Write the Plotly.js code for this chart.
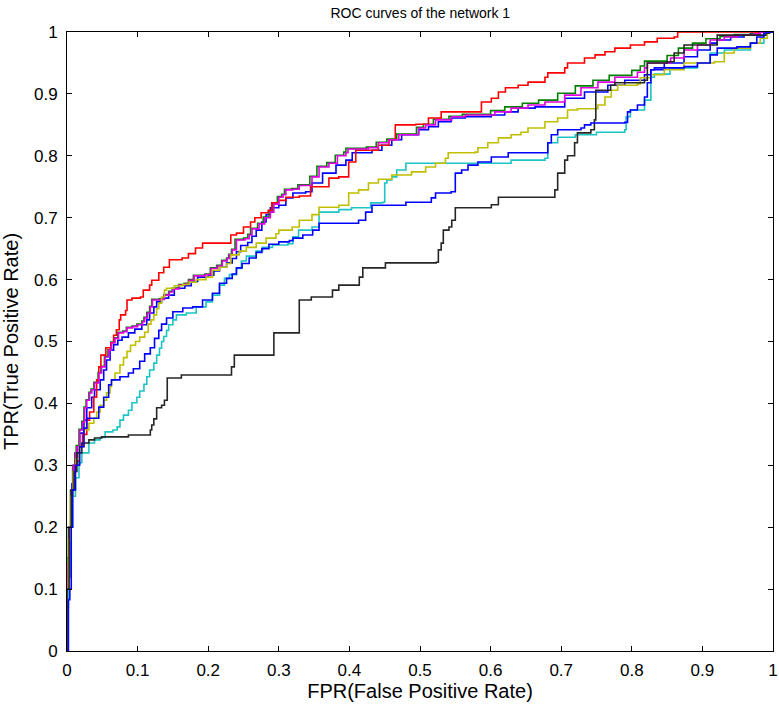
<!DOCTYPE html>
<html>
<head>
<meta charset="utf-8">
<script src="https://cdn.plot.ly/plotly-3.0.1.min.js"></script>
<style>html,body{margin:0;padding:0;background:#fff;}#chart{width:779px;height:707px;}</style>
</head>
<body>
<div id="chart"></div>
<script>
// ---- Data (FPR, TPR pairs for each curve) ----
var blue1X = [0,0.001,0.004,0.007,0.011,0.015,0.018,0.024,0.028,0.035,0.039,0.047,0.052,0.056,0.061,0.066,0.072,0.078,0.087,0.096,0.106,0.113,0.117,0.123,0.127,0.134,0.144,0.152,0.167,0.176,0.185,0.2,0.208,0.216,0.226,0.234,0.24,0.246,0.256,0.262,0.268,0.276,0.282,0.288,0.3,0.31,0.32,0.338,0.347,0.362,0.381,0.395,0.404,0.432,0.446,0.46,0.474,0.498,0.512,0.526,0.544,0.564,0.601,0.62,0.639,0.663,0.705,0.733,0.766,0.79,0.818,0.827,0.846,0.874,0.893,0.911,0.921,0.94,0.959,0.968,0.98,1];
var blue1Y = [0,0.12,0.2,0.27,0.3,0.33,0.352,0.373,0.393,0.41,0.422,0.438,0.454,0.47,0.486,0.495,0.502,0.507,0.514,0.52,0.527,0.535,0.546,0.556,0.564,0.57,0.575,0.586,0.59,0.597,0.604,0.607,0.614,0.62,0.627,0.634,0.645,0.655,0.66,0.67,0.68,0.693,0.705,0.716,0.72,0.732,0.74,0.742,0.756,0.772,0.785,0.793,0.805,0.809,0.817,0.826,0.834,0.842,0.847,0.855,0.861,0.863,0.866,0.871,0.877,0.879,0.893,0.903,0.914,0.922,0.931,0.939,0.95,0.96,0.971,0.982,0.987,0.992,0.995,0.997,1,1];

var greenX = [0,0,0.002,0.005,0.008,0.011,0.013,0.017,0.021,0.024,0.027,0.031,0.034,0.038,0.044,0.048,0.053,0.058,0.062,0.067,0.072,0.079,0.084,0.092,0.099,0.106,0.109,0.113,0.117,0.12,0.131,0.137,0.144,0.149,0.158,0.166,0.172,0.179,0.195,0.203,0.212,0.219,0.226,0.229,0.233,0.238,0.25,0.256,0.26,0.27,0.278,0.286,0.291,0.298,0.304,0.308,0.318,0.327,0.344,0.354,0.368,0.38,0.392,0.395,0.424,0.438,0.453,0.467,0.495,0.505,0.519,0.541,0.56,0.6,0.62,0.645,0.668,0.695,0.72,0.745,0.768,0.8,0.812,0.818,0.85,0.866,0.886,0.905,0.925,0.945,0.97,0.98,1];
var greenY = [0,0.15,0.2,0.26,0.3,0.32,0.332,0.358,0.371,0.394,0.406,0.418,0.423,0.434,0.45,0.46,0.476,0.487,0.499,0.506,0.515,0.517,0.523,0.525,0.528,0.533,0.539,0.547,0.557,0.568,0.569,0.576,0.581,0.586,0.592,0.594,0.6,0.607,0.609,0.619,0.623,0.631,0.635,0.641,0.649,0.665,0.667,0.673,0.683,0.691,0.701,0.71,0.723,0.734,0.738,0.746,0.747,0.753,0.767,0.783,0.789,0.801,0.806,0.812,0.814,0.822,0.827,0.835,0.846,0.851,0.859,0.864,0.867,0.873,0.879,0.885,0.89,0.901,0.913,0.922,0.93,0.938,0.945,0.953,0.962,0.974,0.982,0.989,0.993,0.996,0.998,1,1];

var redX = [0,0.001,0.004,0.007,0.011,0.016,0.022,0.028,0.032,0.038,0.042,0.045,0.048,0.055,0.062,0.066,0.07,0.074,0.076,0.083,0.085,0.092,0.104,0.108,0.117,0.12,0.13,0.137,0.145,0.163,0.172,0.182,0.192,0.228,0.232,0.24,0.25,0.26,0.266,0.275,0.285,0.29,0.3,0.31,0.329,0.345,0.371,0.385,0.399,0.409,0.427,0.441,0.456,0.465,0.494,0.512,0.53,0.578,0.587,0.601,0.611,0.621,0.639,0.653,0.677,0.681,0.705,0.709,0.733,0.748,0.762,0.776,0.798,0.818,0.836,0.86,0.865,1];
var redY = [0,0.12,0.2,0.26,0.3,0.33,0.35,0.373,0.386,0.41,0.438,0.459,0.478,0.49,0.498,0.51,0.519,0.535,0.543,0.55,0.567,0.57,0.572,0.583,0.591,0.599,0.611,0.62,0.632,0.635,0.642,0.651,0.659,0.659,0.672,0.675,0.685,0.693,0.7,0.708,0.712,0.724,0.728,0.733,0.735,0.75,0.764,0.766,0.79,0.809,0.809,0.817,0.826,0.85,0.851,0.861,0.871,0.871,0.887,0.893,0.903,0.91,0.914,0.919,0.927,0.934,0.942,0.95,0.958,0.963,0.968,0.974,0.979,0.984,0.99,0.992,1,1];

var cyanX = [0,0,0.002,0.004,0.008,0.012,0.017,0.021,0.031,0.039,0.047,0.054,0.065,0.071,0.075,0.08,0.087,0.092,0.099,0.103,0.109,0.113,0.117,0.123,0.127,0.131,0.134,0.137,0.141,0.144,0.15,0.155,0.169,0.183,0.197,0.206,0.216,0.223,0.23,0.24,0.247,0.254,0.268,0.277,0.291,0.313,0.32,0.328,0.347,0.357,0.385,0.403,0.43,0.447,0.45,0.453,0.46,0.467,0.48,0.611,0.629,0.677,0.681,0.695,0.72,0.75,0.79,0.792,0.798,0.818,0.827,0.832,0.854,0.893,0.911,0.931,0.968,0.987,0.99,1];
var cyanY = [0,0.07,0.12,0.2,0.25,0.28,0.304,0.32,0.336,0.341,0.345,0.354,0.357,0.362,0.373,0.381,0.389,0.401,0.41,0.42,0.431,0.443,0.454,0.465,0.478,0.489,0.5,0.508,0.518,0.527,0.535,0.543,0.546,0.556,0.564,0.575,0.591,0.602,0.608,0.618,0.63,0.638,0.646,0.652,0.656,0.658,0.669,0.68,0.685,0.709,0.713,0.716,0.724,0.725,0.756,0.761,0.766,0.777,0.788,0.788,0.793,0.796,0.821,0.83,0.834,0.838,0.842,0.863,0.874,0.89,0.927,0.932,0.942,0.95,0.966,0.971,0.982,0.998,1,1];

var magentaX = [0,0,0.003,0.006,0.009,0.012,0.014,0.018,0.022,0.025,0.028,0.032,0.035,0.039,0.045,0.049,0.054,0.059,0.063,0.068,0.073,0.08,0.085,0.093,0.1,0.107,0.11,0.114,0.118,0.121,0.132,0.138,0.145,0.15,0.159,0.167,0.173,0.18,0.196,0.204,0.213,0.22,0.227,0.23,0.234,0.24,0.252,0.258,0.262,0.272,0.28,0.288,0.293,0.3,0.306,0.31,0.32,0.329,0.347,0.357,0.371,0.383,0.395,0.398,0.427,0.441,0.456,0.47,0.498,0.508,0.522,0.545,0.564,0.606,0.629,0.653,0.677,0.705,0.728,0.752,0.776,0.808,0.818,0.822,0.855,0.874,0.893,0.911,0.931,0.949,0.973,0.982,1];
var magentaY = [0,0.14,0.2,0.26,0.3,0.32,0.33,0.357,0.37,0.393,0.405,0.417,0.422,0.433,0.449,0.459,0.475,0.486,0.498,0.505,0.514,0.516,0.522,0.524,0.527,0.532,0.538,0.546,0.556,0.567,0.568,0.575,0.58,0.585,0.591,0.593,0.599,0.606,0.608,0.618,0.622,0.63,0.634,0.64,0.648,0.664,0.666,0.672,0.682,0.69,0.7,0.709,0.722,0.733,0.737,0.745,0.746,0.752,0.766,0.782,0.788,0.8,0.805,0.811,0.813,0.821,0.826,0.834,0.845,0.85,0.858,0.863,0.866,0.871,0.877,0.882,0.887,0.898,0.91,0.919,0.927,0.935,0.942,0.95,0.958,0.971,0.979,0.987,0.992,0.995,0.997,1,1];

var yellowX = [0,0,0.002,0.005,0.009,0.013,0.017,0.024,0.031,0.038,0.042,0.047,0.052,0.056,0.061,0.063,0.068,0.075,0.08,0.085,0.09,0.097,0.103,0.11,0.115,0.119,0.123,0.127,0.13,0.134,0.138,0.141,0.152,0.164,0.173,0.183,0.197,0.206,0.216,0.226,0.232,0.244,0.254,0.268,0.282,0.296,0.3,0.319,0.329,0.347,0.357,0.385,0.399,0.413,0.427,0.441,0.46,0.488,0.508,0.522,0.536,0.54,0.578,0.582,0.596,0.611,0.629,0.643,0.653,0.677,0.695,0.709,0.723,0.752,0.762,0.771,0.78,0.808,0.812,0.827,0.846,0.874,0.917,0.931,0.945,0.968,0.982,0.992,0.995,1];
var yellowY = [0,0.1,0.18,0.25,0.29,0.31,0.33,0.357,0.368,0.376,0.386,0.397,0.405,0.417,0.427,0.438,0.449,0.462,0.474,0.484,0.494,0.5,0.507,0.515,0.528,0.535,0.543,0.553,0.562,0.572,0.583,0.586,0.59,0.592,0.596,0.6,0.604,0.615,0.62,0.626,0.64,0.646,0.652,0.659,0.667,0.674,0.68,0.685,0.696,0.705,0.717,0.72,0.74,0.745,0.756,0.762,0.769,0.774,0.782,0.788,0.796,0.805,0.806,0.813,0.821,0.829,0.834,0.838,0.845,0.855,0.861,0.874,0.876,0.882,0.895,0.906,0.914,0.916,0.926,0.931,0.939,0.95,0.952,0.966,0.974,0.982,0.99,0.998,1,1];

var blackX = [0,0,0.003,0.006,0.01,0.014,0.021,0.031,0.039,0.049,0.078,0.087,0.116,0.118,0.12,0.123,0.127,0.134,0.138,0.142,0.162,0.23,0.233,0.237,0.289,0.293,0.324,0.329,0.346,0.376,0.385,0.414,0.419,0.441,0.451,0.523,0.526,0.53,0.533,0.541,0.545,0.55,0.578,0.601,0.611,0.686,0.691,0.695,0.705,0.709,0.719,0.723,0.742,0.747,0.749,0.77,0.776,0.818,0.822,0.85,0.86,0.874,0.911,0.921,0.99,0.995,1];
var blackY = [0,0.1,0.2,0.26,0.29,0.32,0.336,0.341,0.344,0.346,0.346,0.349,0.349,0.357,0.365,0.375,0.393,0.397,0.405,0.441,0.446,0.446,0.459,0.478,0.478,0.514,0.514,0.567,0.572,0.583,0.591,0.604,0.619,0.619,0.627,0.628,0.648,0.659,0.68,0.685,0.696,0.716,0.716,0.721,0.733,0.733,0.745,0.772,0.793,0.8,0.821,0.837,0.842,0.858,0.906,0.914,0.918,0.922,0.95,0.952,0.966,0.979,0.979,0.995,0.998,1,1];

var blue2X = [0,0.002,0.002,0.004,0.006,0.008,0.012,0.018,0.024,0.028,0.039,0.045,0.052,0.059,0.063,0.075,0.087,0.094,0.103,0.11,0.118,0.124,0.13,0.134,0.141,0.15,0.164,0.178,0.192,0.206,0.216,0.226,0.234,0.24,0.248,0.258,0.268,0.276,0.286,0.3,0.315,0.32,0.334,0.348,0.357,0.413,0.423,0.432,0.48,0.516,0.522,0.544,0.55,0.559,0.568,0.582,0.601,0.625,0.681,0.681,0.686,0.695,0.728,0.733,0.742,0.79,0.794,0.798,0.808,0.818,0.822,0.827,0.832,0.874,0.893,0.911,0.921,0.949,0.968,0.977,0.987,0.99,1];
var blue2Y = [0,0,0.083,0.1,0.2,0.26,0.3,0.33,0.36,0.376,0.376,0.394,0.41,0.43,0.438,0.443,0.449,0.456,0.468,0.48,0.49,0.505,0.518,0.528,0.538,0.548,0.554,0.556,0.567,0.578,0.594,0.602,0.609,0.619,0.626,0.635,0.644,0.65,0.657,0.661,0.663,0.667,0.672,0.68,0.691,0.696,0.709,0.72,0.725,0.732,0.74,0.742,0.772,0.777,0.785,0.79,0.798,0.805,0.806,0.821,0.834,0.842,0.845,0.85,0.853,0.854,0.871,0.874,0.882,0.895,0.918,0.939,0.942,0.944,0.95,0.963,0.974,0.976,0.982,0.992,0.998,1,1];

var tickVals = [0,0.1,0.2,0.3,0.4,0.5,0.6,0.7,0.8,0.9,1];
var tickText = ['0','0.1','0.2','0.3','0.4','0.5','0.6','0.7','0.8','0.9','1'];

var series = [
  {x: blue1X, y: blue1Y, c: '#0000ff'},
  {x: greenX, y: greenY, c: '#008000'},
  {x: redX, y: redY, c: '#ff0000'},
  {x: cyanX, y: cyanY, c: '#1cc4c4'},
  {x: magentaX, y: magentaY, c: '#e000e0'},
  {x: yellowX, y: yellowY, c: '#bfbf00'},
  {x: blackX, y: blackY, c: '#262626'},
  {x: blue2X, y: blue2Y, c: '#0000ff'}
];

var traces = series.map(function (s) {
  return {x: s.x, y: s.y, type: 'scatter', mode: 'lines',
          line: {color: s.c, width: 1.6, shape: 'hv'}, hoverinfo: 'skip'};
});

var FONT = '"Liberation Sans", Arial, sans-serif';

var axisCommon = {
  range: [0, 1], tickmode: 'array', tickvals: tickVals, ticktext: tickText,
  ticks: 'inside', ticklen: 5, tickwidth: 1, tickcolor: '#000',
  showline: true, linecolor: '#000', linewidth: 1, mirror: 'ticks',
  showgrid: false, zeroline: false, fixedrange: true,
  ticklabeloverflow: 'allow',
  tickfont: {family: FONT, size: 17, color: '#000'}
};

var layout = {
  width: 779, height: 707,
  margin: {l: 67, r: 6, t: 32, b: 56, pad: 0},
  paper_bgcolor: '#fff', plot_bgcolor: '#fff',
  showlegend: false,
  title: {text: 'ROC curves of the network 1', font: {family: FONT, size: 14, color: '#000'},
          x: 0.5395, xanchor: 'center', y: 0.988, yanchor: 'top'},
  xaxis: Object.assign({}, axisCommon, {
    ticklabelstandoff: 4,
    title: {text: 'FPR(False Positive Rate)', font: {family: FONT, size: 20, color: '#000'}, standoff: 4}
  }),
  yaxis: Object.assign({}, axisCommon, {
    ticklabelstandoff: 5,
    title: {text: 'TPR(True Positive Rate)', font: {family: FONT, size: 20, color: '#000'}, standoff: 12}
  })
};

Plotly.newPlot('chart', traces, layout, {displayModeBar: false, staticPlot: true});
</script>
</body>
</html>
